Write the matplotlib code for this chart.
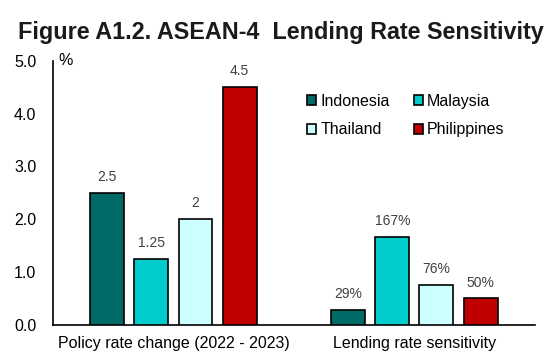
import numpy as np
import matplotlib.pyplot as plt

plt.rcParams['font.family'] = ['Liberation Sans', 'DejaVu Sans']

groups = ['Policy rate change (2022 - 2023)', 'Lending rate sensitivity']
countries = ['Indonesia', 'Malaysia', 'Thailand', 'Philippines']
colors = ['#006B66', '#00CCCC', '#CCFFFF', '#C00000']
policy_change = [2.5, 1.25, 2.0, 4.5]
sensitivity = [0.29, 1.67, 0.76, 0.50]
policy_labels = ['2.5', '1.25', '2', '4.5']
sensitivity_labels = ['29%', '167%', '76%', '50%']

fig = plt.figure(figsize=(5.52, 3.52), dpi=100)
ax = fig.add_axes([0.096, 0.077, 0.873, 0.75])

x = np.arange(len(groups))
width = 0.141
step = 0.183
handles = []
for i, name in enumerate(countries):
    vals = [policy_change[i], sensitivity[i]]
    labs = [policy_labels[i], sensitivity_labels[i]]
    pos = x + (i - 1.5) * step
    bars = ax.bar(pos, vals, width, color=colors[i], edgecolor='black',
                  linewidth=1.2, label=name, zorder=3)
    handles.append(bars)
    for b, lab in zip(bars, labs):
        ax.text(b.get_x() + b.get_width() / 2, b.get_height() + 0.17, lab,
                ha='center', va='bottom', fontsize=10, color='#404040')

ax.set_xlim(-0.5, 1.5)
ax.set_ylim(0, 5)
ax.set_yticks(np.arange(0, 5.1, 1.0))
ax.set_yticklabels([f'{v:.1f}' for v in np.arange(0, 5.1, 1.0)])
ax.set_xticks(x)
ax.set_xticklabels(groups)
ax.tick_params(axis='both', length=0, labelsize=11.5, colors='black')
ax.tick_params(axis='y', pad=12)
ax.tick_params(axis='x', pad=8)
for s in ['top', 'right']:
    ax.spines[s].set_visible(False)
for s in ['left', 'bottom']:
    ax.spines[s].set_linewidth(1.2)

ax.text(0.012, 1.0, '%', transform=ax.transAxes, fontsize=11.5, va='center')

# legend fills row by row: Indonesia, Malaysia / Thailand, Philippines
order = [0, 2, 1, 3]
ax.legend([handles[k] for k in order], [countries[k] for k in order],
          ncol=2, loc='upper left', bbox_to_anchor=(0.513, 0.9), frameon=False,
          fontsize=11.5, handlelength=0.6, handleheight=0.6, handletextpad=0.25,
          columnspacing=1.5, labelspacing=0.85, borderaxespad=0)

fig.text(0.033, 0.909, 'Figure A1.2. ASEAN-4  Lending Rate Sensitivity',
         fontsize=16.8, fontweight='bold', color='#1a1a1a', va='center')

fig.savefig('out.png', dpi=100)
